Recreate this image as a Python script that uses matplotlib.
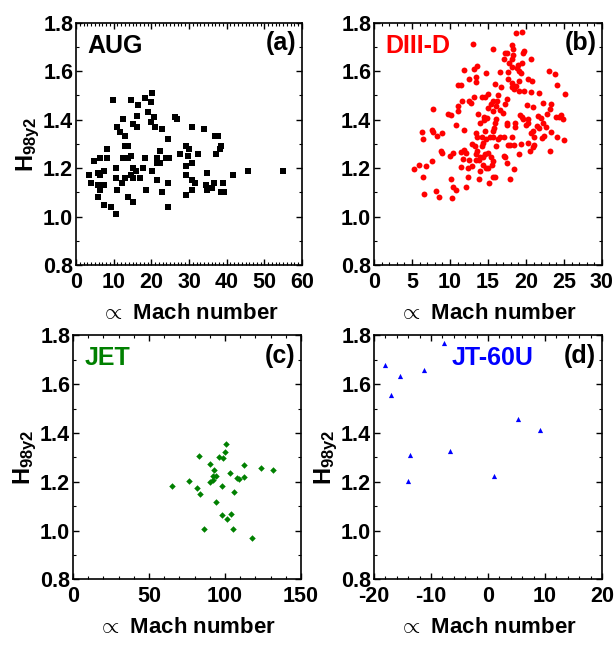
"""Four-panel H98y2 vs Mach number scatter (AUG, DIII-D, JET, JT-60U)."""
import matplotlib

matplotlib.use("Agg")
import matplotlib.pyplot as plt  # noqa: E402
from matplotlib.ticker import FormatStrFormatter, MultipleLocator  # noqa: E402

plt.rcParams["font.family"] = ["Liberation Sans", "DejaVu Sans"]
plt.rcParams["font.weight"] = "bold"
plt.rcParams["axes.unicode_minus"] = False
plt.rcParams["mathtext.fontset"] = "custom"
plt.rcParams["mathtext.rm"] = "Liberation Sans:bold"
plt.rcParams["mathtext.bf"] = "Liberation Sans:bold"

# ---- data ----
aug_mach = [9.7, 14.7, 18.4, 20.3, 19.8, 16.4, 19.2, 16.2, 20.8, 12.6, 19.8, 15.2,
            11.0, 16.3, 21.1, 22.7, 11.8, 26.2, 26.7, 30.7, 33.9, 12.9, 24.5, 36.9,
            37.7, 12.9, 13.9, 29.3, 30.1, 38.5, 38.2, 8.3, 22.4, 37.1, 32.5, 27.5,
            29.6, 4.9, 6.5, 8.3, 12.6, 13.9, 14.5, 18.2, 21.6, 23.8, 24.6, 21.6,
            22.4, 30.7, 29.3, 10.7, 15.0, 17.9, 16.0, 20.3, 7.5, 3.5, 5.9, 6.5,
            14.5, 10.7, 13.1, 15.0, 17.1, 29.1, 34.9, 41.8, 45.6, 54.9, 21.4, 4.1,
            5.9, 7.5, 12.1, 24.3, 30.9, 31.5, 34.4, 36.5, 38.9, 6.5, 11.0, 18.7,
            22.7, 30.9, 34.9, 36.2, 38.5, 39.3, 29.3, 5.9, 13.9, 15.2, 7.3, 9.4,
            24.3, 10.7]
aug_h = [1.481, 1.481, 1.488, 1.508, 1.471, 1.459, 1.430, 1.416, 1.409, 1.402, 1.390, 1.380,
         1.368, 1.368, 1.368, 1.360, 1.347, 1.409, 1.401, 1.368, 1.360, 1.331, 1.319, 1.331,
         1.331, 1.290, 1.290, 1.290, 1.277, 1.290, 1.277, 1.277, 1.269, 1.257, 1.257, 1.257,
         1.248, 1.228, 1.240, 1.240, 1.240, 1.240, 1.248, 1.240, 1.240, 1.240, 1.240, 1.220,
         1.220, 1.220, 1.207, 1.199, 1.199, 1.199, 1.187, 1.187, 1.187, 1.170, 1.178, 1.170,
         1.170, 1.158, 1.158, 1.158, 1.158, 1.170, 1.178, 1.170, 1.187, 1.187, 1.149, 1.137,
         1.129, 1.129, 1.137, 1.137, 1.149, 1.137, 1.129, 1.137, 1.137, 1.108, 1.108, 1.108,
         1.100, 1.108, 1.108, 1.116, 1.100, 1.100, 1.088, 1.079, 1.079, 1.059, 1.046, 1.038,
         1.038, 1.009]

d3d_mach = [18.7, 19.5, 13.0, 15.7, 18.2, 18.3, 19.8, 19.6, 17.3, 17.5, 18.3, 17.1,
            18.1, 20.6, 17.8, 19.5, 19.0, 18.2, 18.8, 13.5, 13.1, 11.9, 14.8, 16.6,
            17.7, 19.1, 19.4, 23.0, 23.8, 12.5, 13.4, 17.6, 19.1, 20.3, 20.8, 18.2,
            15.9, 11.1, 11.5, 13.4, 24.1, 18.7, 18.2, 16.7, 18.4, 19.1, 19.8, 20.7,
            21.7, 25.1, 15.0, 16.3, 14.2, 14.6, 13.2, 11.6, 12.5, 12.8, 17.5, 17.3,
            16.2, 15.6, 15.4, 16.1, 15.0, 22.2, 23.3, 20.2, 20.9, 23.1, 11.1, 7.8,
            13.7, 15.6, 16.6, 17.0, 9.8, 10.1, 11.1, 19.2, 19.5, 21.6, 22.0, 22.8,
            23.9, 24.4, 24.6, 24.9, 14.5, 14.9, 14.5, 14.0, 16.1, 15.9, 19.6, 20.3,
            20.0, 17.5, 17.5, 18.6, 18.5, 20.3, 21.5, 22.3, 22.7, 21.7, 10.8, 11.9,
            15.8, 15.7, 14.6, 6.3, 7.6, 7.8, 6.4, 8.3, 9.0, 23.3, 22.4, 22.1,
            20.9, 21.1, 20.7, 13.4, 13.5, 14.2, 14.8, 15.3, 15.6, 16.6, 17.1, 18.1,
            12.9, 13.3, 14.3, 14.2, 16.3, 16.1, 17.6, 17.9, 18.4, 19.3, 20.9, 21.0,
            20.3, 25.0, 24.1, 8.8, 9.0, 10.0, 10.4, 11.9, 11.4, 12.1, 13.5, 13.4,
            14.0, 13.8, 14.3, 14.6, 15.0, 15.4, 15.7, 15.5, 14.3, 13.4, 12.5, 11.7,
            11.5, 12.9, 12.4, 14.0, 14.7, 15.0, 17.1, 17.3, 19.1, 20.5, 23.1, 17.5,
            18.4, 7.6, 5.9, 6.9, 5.3, 6.4, 10.1, 12.4, 13.8, 15.7, 15.9, 17.9,
            15.2, 10.4, 10.8, 12.1, 6.6, 8.2, 8.6, 10.3]
d3d_h = [1.759, 1.763, 1.711, 1.691, 1.708, 1.691, 1.684, 1.675, 1.676, 1.676, 1.667, 1.649,
         1.651, 1.649, 1.632, 1.632, 1.624, 1.618, 1.612, 1.620, 1.609, 1.605, 1.594, 1.595,
         1.598, 1.599, 1.594, 1.599, 1.587, 1.566, 1.574, 1.566, 1.561, 1.566, 1.558, 1.550,
         1.546, 1.544, 1.544, 1.557, 1.544, 1.537, 1.533, 1.533, 1.525, 1.519, 1.519, 1.514,
         1.508, 1.506, 1.504, 1.503, 1.495, 1.492, 1.492, 1.477, 1.477, 1.470, 1.484, 1.466,
         1.475, 1.478, 1.466, 1.456, 1.446, 1.467, 1.463, 1.459, 1.451, 1.442, 1.457, 1.445,
         1.424, 1.434, 1.440, 1.426, 1.424, 1.420, 1.436, 1.418, 1.412, 1.416, 1.407, 1.424,
         1.412, 1.412, 1.419, 1.402, 1.411, 1.405, 1.397, 1.387, 1.404, 1.387, 1.404, 1.385,
         1.376, 1.387, 1.376, 1.387, 1.371, 1.404, 1.374, 1.387, 1.368, 1.364, 1.376, 1.357,
         1.364, 1.354, 1.354, 1.349, 1.357, 1.349, 1.320, 1.332, 1.346, 1.349, 1.331, 1.323,
         1.354, 1.330, 1.346, 1.346, 1.330, 1.330, 1.319, 1.330, 1.330, 1.327, 1.330, 1.330,
         1.301, 1.292, 1.305, 1.292, 1.319, 1.291, 1.297, 1.294, 1.294, 1.299, 1.288, 1.294,
         1.305, 1.314, 1.330, 1.272, 1.264, 1.250, 1.261, 1.275, 1.268, 1.264, 1.272, 1.258,
         1.247, 1.233, 1.247, 1.258, 1.264, 1.247, 1.231, 1.214, 1.214, 1.233, 1.233, 1.236,
         1.206, 1.209, 1.199, 1.189, 1.199, 1.200, 1.250, 1.244, 1.258, 1.272, 1.272, 1.222,
         1.195, 1.231, 1.213, 1.209, 1.195, 1.163, 1.154, 1.163, 1.155, 1.162, 1.162, 1.156,
         1.137, 1.120, 1.111, 1.120, 1.092, 1.104, 1.082, 1.075]

jet_mach = [100.5, 100.1, 82.9, 95.9, 98.7, 90.0, 112.8, 123.6, 131.7, 93.0, 103.4,
            92.1, 94.1, 107.8, 108.9, 112.2, 91.9, 90.4, 64.9, 76.1, 98.3, 81.4,
            83.4, 105.8, 94.1, 98.1, 104.0, 101.2, 86.0, 105.3, 117.9]
jet_h = [1.353, 1.321, 1.306, 1.301, 1.298, 1.273, 1.269, 1.258, 1.247, 1.247, 1.237,
         1.223, 1.222, 1.215, 1.212, 1.220, 1.207, 1.198, 1.182, 1.204, 1.183, 1.174,
         1.148, 1.156, 1.115, 1.062, 1.067, 1.048, 1.006, 1.006, 0.971]

jt60_mach = [-7.7, -18.1, -15.4, -11.3, -17.1, 5.2, 9.1, -13.6, -6.6, -14.0, 1.0]
jt60_h = [1.770, 1.680, 1.633, 1.657, 1.556, 1.459, 1.410, 1.310, 1.325, 1.205, 1.224]

fig = plt.figure(figsize=(6.16, 6.47), dpi=100)

panels = [
    # rect, x, y, marker, size, colour, name, tag, xlim, major, minor, ylabel, name_x
    ([0.1234, 0.5904, 0.3669, 0.3745], aug_mach, aug_h, "s", 16, "black", "AUG", "(a)",
     (0, 60), 10, 1, True, 0.05),
    ([0.6071, 0.5904, 0.3701, 0.3745], d3d_mach, d3d_h, "o", 18, "#ff0000", "DIII-D", "(b)",
     (0, 30), 5, 1, False, 0.05),
    ([0.1185, 0.1046, 0.3701, 0.3771], jet_mach, jet_h, "D", 11, "#008000", "JET", "(c)",
     (0, 150), 50, 10, True, 0.05),
    ([0.6071, 0.1046, 0.3701, 0.3771], jt60_mach, jt60_h, "^", 14, "#0000ff", "JT-60U", "(d)",
     (-20, 20), 10, 2, True, 0.34),
]

for rect, xs, ys, mk, sz, col, name, tag, xlim, major, minor, ylab, name_x in panels:
    ax = fig.add_axes(rect)
    ax.scatter(xs, ys, marker=mk, s=sz, color=col, linewidths=0)
    ax.set_xlim(*xlim)
    ax.set_ylim(0.8, 1.8)
    ax.xaxis.set_major_locator(MultipleLocator(major))
    ax.xaxis.set_minor_locator(MultipleLocator(minor))
    ax.yaxis.set_major_locator(MultipleLocator(0.2))
    ax.yaxis.set_minor_locator(MultipleLocator(0.1))
    ax.yaxis.set_major_formatter(FormatStrFormatter("%.1f"))
    ax.tick_params(which="both", direction="in", top=True, right=True, labelsize=15.5)
    ax.tick_params(which="major", length=4, width=1)
    ax.tick_params(axis="x", which="major", pad=5)
    ax.tick_params(axis="y", which="major", pad=2)
    ax.tick_params(which="minor", length=2, width=0.8)
    for lbl in ax.get_xticklabels() + ax.get_yticklabels():
        lbl.set_fontweight("bold")
    for sp in ax.spines.values():
        sp.set_linewidth(1.2)
    ax.set_xlabel(r"$\propto$ Mach number", fontsize=16, fontweight="bold", labelpad=7)
    if ylab:
        ax.set_ylabel(r"$\mathbf{H_{98y2}}$", fontsize=17, labelpad=1)
    ax.text(name_x, 0.955, name, transform=ax.transAxes, color=col, fontsize=18,
            fontweight="bold", ha="left", va="top")
    ax.text(0.975, 0.965, tag, transform=ax.transAxes, color="black", fontsize=18,
            fontweight="bold", ha="right", va="top")

fig.savefig("out.png", dpi=100)
